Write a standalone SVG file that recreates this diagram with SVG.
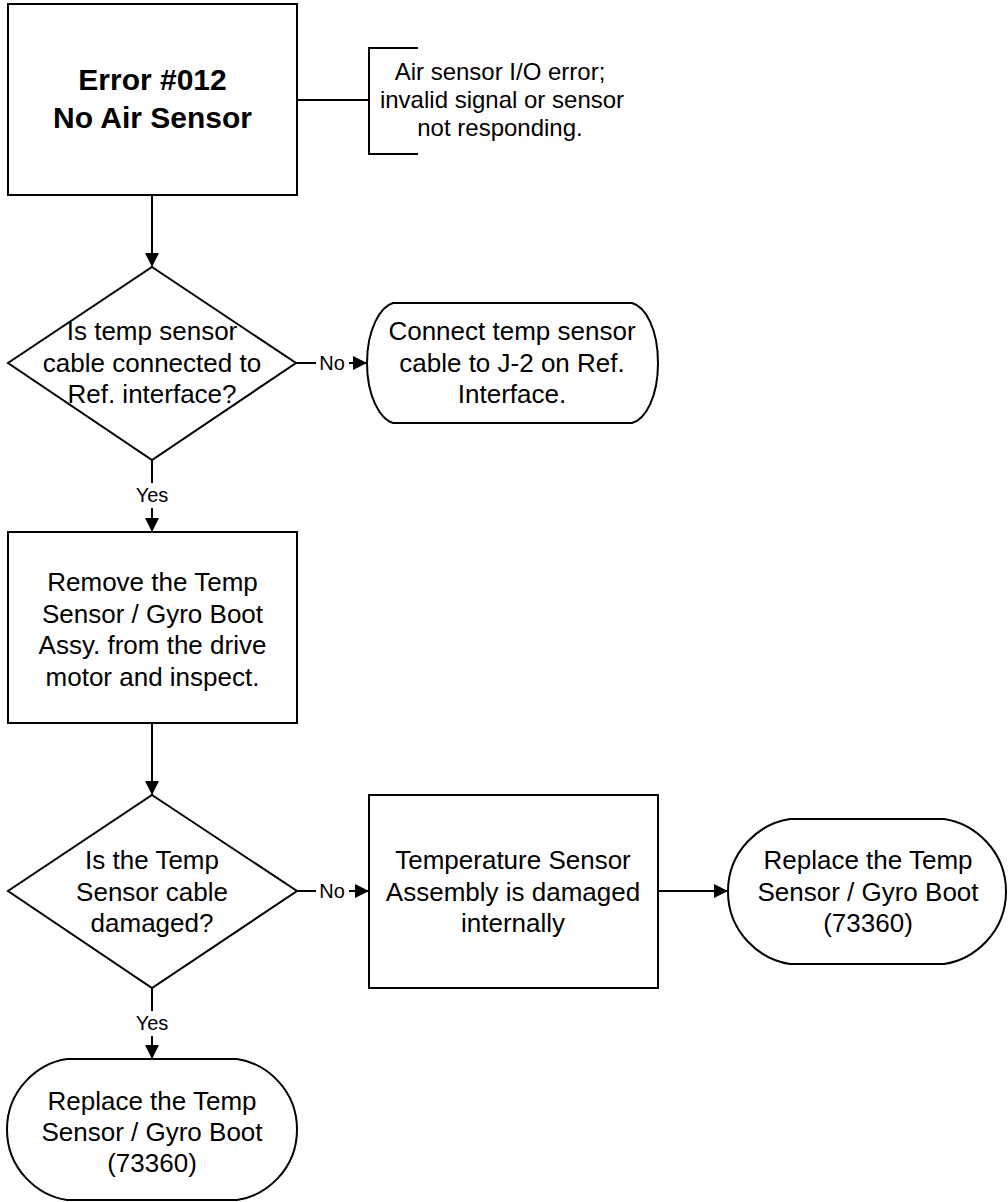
<svg xmlns="http://www.w3.org/2000/svg" width="1008" height="1202" viewBox="0 0 1008 1202">
<defs>
<marker id="arrow" markerUnits="userSpaceOnUse" markerWidth="14" markerHeight="14" refX="14" refY="7" orient="auto"><path d="M0,0 L14,7 L0,14 Z" fill="#000"/></marker>
<style>
.shape{fill:#fff;stroke:#000;stroke-width:2}
.conn{fill:none;stroke:#000;stroke-width:2}
.arr{marker-end:url(#arrow)}
text{font-family:"Liberation Sans",Arial,sans-serif;font-size:26px;fill:#000;text-anchor:middle}
.title{font-weight:bold;font-size:30px}
.lbl{font-size:20px}
.note{font-size:24px}
</style>
</defs>
<rect width="1008" height="1202" fill="#fff"/>
<g id="connectors">
<path class="conn arr" d="M152,195 V267"/>
<path class="conn" d="M297,100 H369"/>
<path class="conn" d="M296,363 H316"/>
<path class="conn arr" d="M349,363 H367"/>
<text class="lbl" x="332" y="370">No</text>
<path class="conn" d="M152,460 V483"/>
<path class="conn arr" d="M152,508 V532"/>
<text class="lbl" x="152" y="502">Yes</text>
<path class="conn arr" d="M152,723 V795"/>
<path class="conn" d="M297,891 H316"/>
<path class="conn arr" d="M349,891 H369"/>
<text class="lbl" x="332" y="898">No</text>
<path class="conn arr" d="M658,891 H728"/>
<path class="conn" d="M152,988 V1011"/>
<path class="conn arr" d="M152,1036 V1059"/>
<text class="lbl" x="152" y="1030">Yes</text>
</g>
<g id="n-error">
<rect class="shape" x="8" y="4" width="289" height="191"/>
<text class="title" x="152.5" y="90">Error #012</text>
<text class="title" x="152.5" y="128">No Air Sensor</text>
</g>
<g id="n-note">
<path class="conn" d="M418,48 H369 V154 H418"/>
<text class="note" x="500" y="79.5">Air sensor I/O error;</text>
<text class="note" x="502" y="107.5">invalid signal or sensor</text>
<text class="note" x="500" y="135.5">not responding.</text>
</g>
<g id="n-dec1">
<polygon class="shape" points="152,267 296,363 152,460 8,363"/>
<text x="152" y="340">Is temp sensor</text>
<text x="152" y="371.5">cable connected to</text>
<text x="152" y="403">Ref. interface?</text>
</g>
<g id="n-connect">
<path class="shape" d="M393,303 H632 C645.5,306.6 658,329 658,363 C658,397 645.5,419.4 632,423 H393 C380.5,419.4 367,397 367,363 C367,329 380.5,306.6 393,303 Z"/>
<text x="512" y="340">Connect temp sensor</text>
<text x="512" y="371.5">cable to J-2 on Ref.</text>
<text x="512" y="403">Interface.</text>
</g>
<g id="n-remove">
<rect class="shape" x="8" y="532" width="289" height="191"/>
<text x="152.5" y="591">Remove the Temp</text>
<text x="152.5" y="622.5">Sensor / Gyro Boot</text>
<text x="152.5" y="654">Assy. from the drive</text>
<text x="152.5" y="685.5">motor and inspect.</text>
</g>
<g id="n-dec2">
<polygon class="shape" points="152,795 297,891 152,988 8,891"/>
<text x="152" y="869">Is the Temp</text>
<text x="152" y="900.5">Sensor cable</text>
<text x="152" y="932">damaged?</text>
</g>
<g id="n-internal">
<rect class="shape" x="369" y="795" width="289" height="193"/>
<text x="513" y="869">Temperature Sensor</text>
<text x="513" y="900.5">Assembly is damaged</text>
<text x="513" y="932">internally</text>
</g>
<g id="n-replace-right">
<path class="shape" d="M790,819 H944 C974,823.4 1006,850.5 1006,891.5 C1006,932.5 974,959.6 944,964 H790 C760,959.6 728,932.5 728,891.5 C728,850.5 760,823.4 790,819 Z"/>
<text x="868" y="869">Replace the Temp</text>
<text x="868" y="900.5">Sensor / Gyro Boot</text>
<text x="868" y="932">(73360)</text>
</g>
<g id="n-replace-bottom">
<path class="shape" d="M67,1059 H237 C266,1063.2 297,1089.5 297,1129.5 C297,1169.5 266,1195.8 237,1200 H67 C38,1195.8 7,1169.5 7,1129.5 C7,1089.5 38,1063.2 67,1059 Z"/>
<text x="152" y="1110">Replace the Temp</text>
<text x="152" y="1141">Sensor / Gyro Boot</text>
<text x="152" y="1172">(73360)</text>
</g>
</svg>
